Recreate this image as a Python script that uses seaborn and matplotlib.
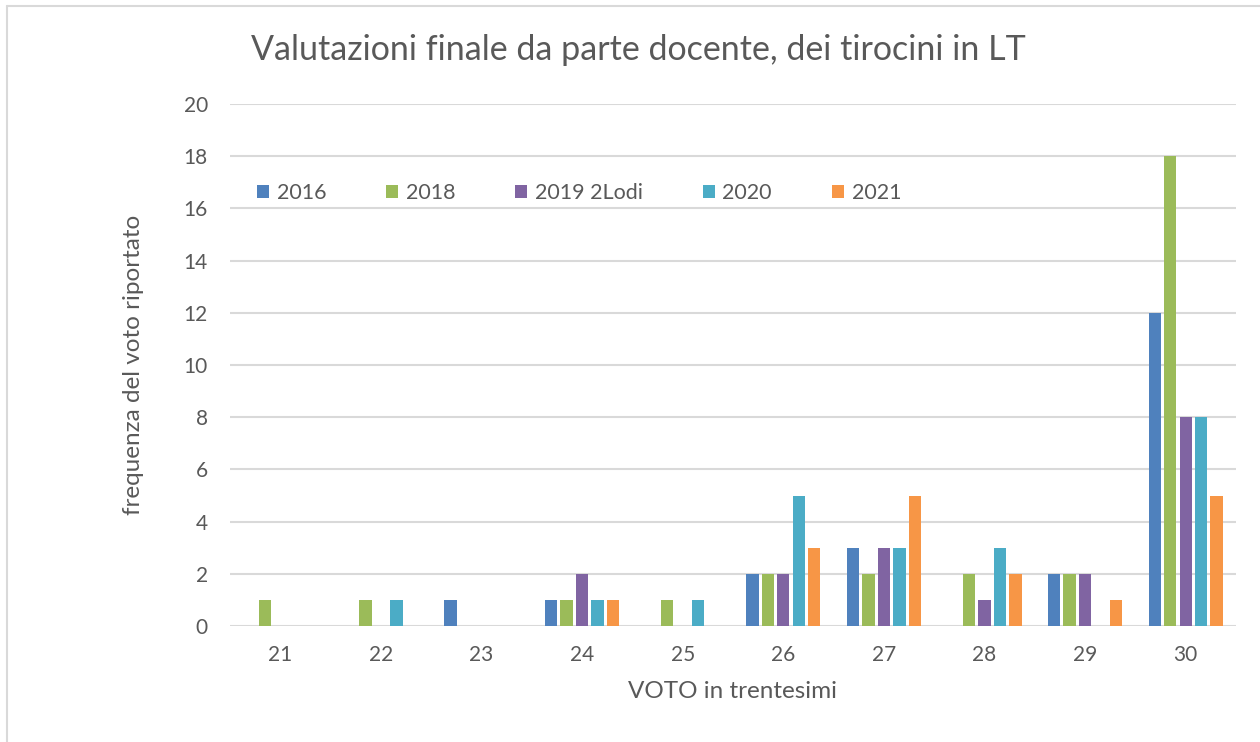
import pandas as pd
import matplotlib
matplotlib.use("Agg")
import matplotlib.pyplot as plt
import seaborn as sns
from matplotlib.lines import Line2D

# Data
voti = ["21", "22", "23", "24", "25", "26", "27", "28", "29", "30"]
anni = ["2016", "2018", "2019 2Lodi", "2020", "2021"]
v2016 = [0, 0, 1, 1, 0, 2, 3, 0, 2, 12]
v2018 = [1, 1, 0, 1, 1, 2, 2, 2, 2, 18]
v2019 = [0, 0, 0, 2, 0, 2, 3, 1, 2, 8]
v2020 = [0, 1, 0, 1, 1, 5, 3, 3, 0, 8]
v2021 = [0, 0, 0, 1, 0, 3, 5, 2, 1, 5]
colori = ["#4F81BD", "#9BBB59", "#8064A2", "#4BACC6", "#F79646"]

df = pd.DataFrame({"voto": voti, "2016": v2016, "2018": v2018,
                   "2019 2Lodi": v2019, "2020": v2020, "2021": v2021})
df = df.melt(id_vars="voto", var_name="anno", value_name="freq")

sns.set_style("white")
plt.rcParams['font.family'] = ['Lato', 'DejaVu Sans']
grigio = "#595959"

fig = plt.figure(figsize=(12.6, 7.42), dpi=100)
ax = fig.add_axes([230 / 1260, 1 - 626 / 742, 1006 / 1260, 522 / 742])

sns.barplot(data=df, x="voto", y="freq", hue="anno", hue_order=anni,
            order=voti, palette=colori, saturation=1, width=0.77, gap=0.2,
            linewidth=0, ax=ax)

ax.set_xlim(-0.5, len(voti) - 0.5)
ax.set_ylim(0, 20)
ax.set_yticks(range(0, 21, 2))
ax.yaxis.grid(True, color="#D9D9D9", linewidth=1.5)
ax.set_axisbelow(True)
for s in ax.spines.values():
    s.set_visible(False)
ax.tick_params(axis="both", length=0, labelsize=15, labelcolor=grigio)
ax.tick_params(axis="y", pad=16)
ax.tick_params(axis="x", pad=14)

ax.set_xlabel("VOTO in trentesimi", fontsize=17.5, color=grigio)
ax.set_ylabel("frequenza del voto riportato", fontsize=17.5, color=grigio)
ax.xaxis.set_label_coords(0.5, -0.105)
ax.yaxis.set_label_coords(-0.085, 0.5)

fig.text(638 / 1260, 1 - 50 / 742, "Valutazioni finale da parte docente, dei tirocini in LT",
         ha="center", va="center", fontsize=24.5, color=grigio)

ax.legend(ncol=5, loc="center left", bbox_to_anchor=(0.027, 0.829),
          frameon=False, borderaxespad=0, borderpad=0,
          handlelength=0.55, handleheight=0.55, handletextpad=0.35,
          columnspacing=2.8, fontsize=15.5, labelcolor=grigio)

# cornice grigia del grafico (sinistra e sopra)
fig.add_artist(Line2D([7 / 1260, 7 / 1260], [0, 1 - 6 / 742], color="#D9D9D9", lw=1.5))
fig.add_artist(Line2D([7 / 1260, 1], [1 - 6 / 742, 1 - 6 / 742], color="#D9D9D9", lw=1.5))

fig.savefig("out.png", dpi=100)
